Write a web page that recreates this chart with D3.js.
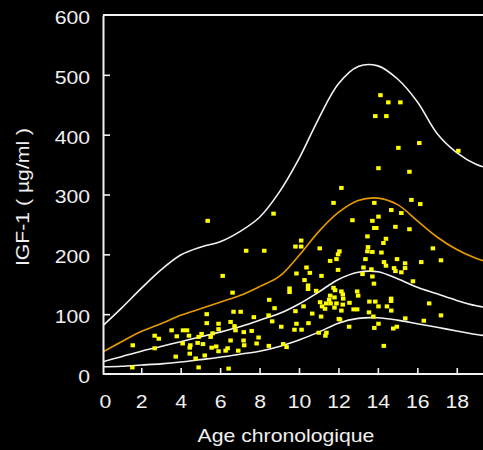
<!DOCTYPE html>
<html>
<head>
<meta charset="utf-8">
<script src="https://cdn.jsdelivr.net/npm/d3@7"></script>
<style>
  html, body { margin: 0; padding: 0; background: #000; }
  svg { display: block; }
</style>
</head>
<body>
<script>
// Reference curves, read on a yearly grid
const curveAges = [0, 1, 2, 3, 4, 5, 6, 7, 8, 9, 10, 11, 12, 13, 14, 15, 16, 17, 18, 19, 19.5];
const upperCurve = [79, 110, 143, 174, 199, 212, 221, 238, 262, 304, 360, 427, 485, 514, 515, 493, 455, 402, 370, 350, 345];
const orangeCurve = [36, 54, 71, 84, 98, 109, 120, 131, 146, 163, 198, 238, 270, 290, 294, 283, 256, 229, 208, 193, 188];
const middleCurve = [20, 29, 38, 46, 54, 62, 70, 79, 90, 101, 117, 137, 158, 170, 171, 159, 145, 134, 123, 114, 111];
const lowerCurve = [12, 13, 15, 17, 20, 24, 28, 33, 38, 46, 57, 70, 85, 93, 94, 90, 84, 78, 72, 66, 64];

// Patients: [age, IGF-1]
const patients = [
    [14.13, 466], [14.53, 454], [15.14, 454], [13.87, 431], [14.43, 431], [15.04, 378], [16.1, 386], [18.08, 373],
    [14.03, 344], [15.6, 338], [12.15, 311], [15.7, 291],
    [5.37, 256], [8.71, 268], [7.32, 206], [8.24, 206], [9.82, 213], [6.13, 164], [6.63, 136], [9.87, 168],
    [9.52, 143], [9.52, 137], [8.49, 124], [8.76, 110], [8.46, 98], [8.64, 88], [9.82, 105], [9.87, 84],
    [9.77, 74], [9.1, 79], [7.71, 95], [6.68, 104], [7.04, 104], [5.32, 100], [5.32, 85], [5.92, 84],
    [5.92, 75], [6.53, 87], [6.73, 80], [6.78, 73], [7.6, 72], [7.2, 70], [7.95, 61], [7.19, 56],
    [7.85, 51], [7.22, 48], [8.47, 47], [9.2, 50], [9.37, 45], [5.62, 68], [5.52, 62], [5.06, 67],
    [4.91, 62], [4.42, 64], [4.12, 73], [4.32, 73], [3.54, 73], [3.8, 63], [2.68, 64], [2.89, 59],
    [1.57, 48], [2.68, 43], [4.1, 51], [4.49, 48], [4.46, 44], [4.86, 52], [5.13, 50], [5.57, 44],
    [5.8, 46], [5.92, 38], [6.28, 39], [6.38, 43], [6.53, 56], [6.92, 39], [3.75, 29], [4.46, 34],
    [4.76, 26], [5.22, 31], [1.55, 11], [4.91, 11], [6.43, 9],
    [11.75, 286], [13.82, 286], [16.15, 284], [14.68, 274], [15.19, 269], [14.03, 263], [13.72, 256], [12.71, 257],
    [14.89, 246], [15.6, 242], [13.82, 244], [13.92, 244], [13.47, 230], [14.41, 226], [14.28, 219], [13.5, 212],
    [13.47, 205], [13.72, 204], [14.18, 203], [16.79, 210], [17.2, 190], [16.2, 187], [10.11, 223], [10.11, 213],
    [11.05, 210], [12.05, 205], [11.98, 200], [11.9, 192], [11.58, 189], [13.37, 192], [14.31, 187], [14.41, 181],
    [14.97, 192], [15.38, 185], [15.38, 177], [14.82, 177], [14.89, 172], [15.19, 170], [13.27, 178], [13.67, 175],
    [13.22, 167], [13.72, 163], [15.78, 155], [13.8, 151], [10.38, 178], [10.55, 169], [11.14, 164], [11.98, 174],
    [10.28, 157], [10.46, 148], [10.46, 142], [10.87, 139], [11.75, 144], [11.83, 140], [12.15, 138], [12.22, 133],
    [11.58, 131], [11.8, 128], [12.24, 126], [12.95, 138], [13.0, 131], [11.07, 120], [11.53, 124], [11.38, 118],
    [11.6, 118], [11.17, 113], [11.32, 109], [11.8, 111], [11.9, 118], [12.22, 116], [12.56, 119], [12.15, 106],
    [12.77, 108], [12.95, 108], [13.57, 121], [13.87, 121], [14.03, 113], [14.46, 113], [14.67, 126], [14.67, 122],
    [14.68, 106], [13.55, 103], [16.6, 118], [17.2, 98], [15.39, 93], [16.33, 89], [13.77, 96], [13.82, 77],
    [14.03, 84], [14.78, 76], [14.96, 79], [11.12, 96], [12.02, 92], [12.08, 91], [12.54, 79], [10.67, 101],
    [10.23, 113], [10.13, 74], [10.48, 85], [11.0, 69], [11.39, 69], [11.34, 64], [14.3, 47]
];

const xTicks = [0, 2, 4, 6, 8, 10, 12, 14, 16, 18];
const yTicks = [0, 100, 200, 300, 400, 500, 600];

const width = 483;
const height = 450;
const stretch = 1.14; // the original lettering is a bit wider than Arial
const font = "'Liberation Sans', Arial, sans-serif";

const svg = d3.select("body")
    .append("svg")
    .attr("width", width)
    .attr("height", height)
    .style("background", "#000");

const x = d3.scaleLinear().domain([0, 19.5]).range([101.8, 101.8 + 19.5 * 19.72]);
const y = d3.scaleLinear().domain([0, 600]).range([374, 15]);

// top border
svg.append("line")
    .attr("x1", 103).attr("x2", width + 5)
    .attr("y1", y(600)).attr("y2", y(600))
    .attr("stroke", "#f2f2f2")
    .attr("stroke-width", 2);

// curves
const line = d3.line()
    .x((d) => x(d[0]))
    .y((d) => y(d[1]))
    .curve(d3.curveCatmullRom);

const curves = [
    { values: lowerCurve, color: "#f2f2f2" },
    { values: middleCurve, color: "#f2f2f2" },
    { values: upperCurve, color: "#f2f2f2" },
    { values: orangeCurve, color: "#e99a00" },
];

svg.append("clipPath").attr("id", "plot")
    .append("rect").attr("x", 103).attr("y", 14).attr("width", 400).attr("height", 362);

svg.append("g")
    .attr("clip-path", "url(#plot)")
    .selectAll("path")
    .data(curves)
    .enter()
    .append("path")
    .attr("d", (c) => line(curveAges.map((a, i) => [a, c.values[i]])))
    .attr("fill", "none")
    .attr("stroke", (c) => c.color)
    .attr("stroke-width", 1.6);

// patients
svg.append("g")
    .selectAll("rect")
    .data(patients)
    .enter()
    .append("rect")
    .attr("x", (d) => x(d[0]) - 2.25)
    .attr("y", (d) => y(d[1]) - 2)
    .attr("width", 4.5)
    .attr("height", 4)
    .attr("fill", "#ffff00");

// axes
const xAxis = d3.axisBottom(x)
    .tickValues(xTicks)
    .tickSizeInner(-6)
    .tickSizeOuter(0)
    .tickPadding(21)
    .tickFormat(d3.format("d"));

const yAxis = d3.axisLeft(y)
    .tickValues(yTicks)
    .tickSizeInner(-7)
    .tickSizeOuter(0)
    .tickPadding(11.4)
    .tickFormat(d3.format("d"));

const gx = svg.append("g")
    .attr("transform", "translate(0," + y(0) + ")")
    .call(xAxis);

const gy = svg.append("g")
    .attr("transform", "translate(" + (103 - x(0)) + ",0)")
    .call(yAxis.scale(y));

gy.attr("transform", "translate(103,0)");

[gx, gy].forEach((g) => {
    g.select(".domain").attr("stroke", "#f2f2f2").attr("stroke-width", 2);
    g.selectAll(".tick line").attr("stroke", "#f2f2f2").attr("stroke-width", 1.6);
    g.selectAll(".tick text")
        .attr("fill", "#f0f0f0")
        .attr("font-family", font)
        .attr("font-size", "18.6px")
        .attr("transform", "scale(" + stretch + ",1)");
});

gx.select(".domain").attr("d", "M103,0H" + (width + 5));
gx.selectAll(".tick").filter((d) => d === 0).select("line").remove();
gx.selectAll(".tick").filter((d) => d === 0).select("text").attr("x", 3 / stretch);
gy.selectAll(".tick text").attr("dy", "0.45em");
gy.selectAll(".tick").filter((d) => d === 0 || d === 600).select("line").remove();

// axis titles
svg.append("text")
    .attr("transform", "translate(286,442) scale(" + stretch + ",1)")
    .attr("text-anchor", "middle")
    .attr("font-family", font)
    .attr("font-size", "18.6px")
    .attr("fill", "#f0f0f0")
    .text("Age chronologique");

svg.append("text")
    .attr("transform", "translate(29,197) rotate(-90) scale(" + stretch + ",1)")
    .attr("text-anchor", "middle")
    .attr("font-family", font)
    .attr("font-size", "18.6px")
    .attr("fill", "#f0f0f0")
    .text("IGF-1 ( µg/ml )");
</script>
</body>
</html>
